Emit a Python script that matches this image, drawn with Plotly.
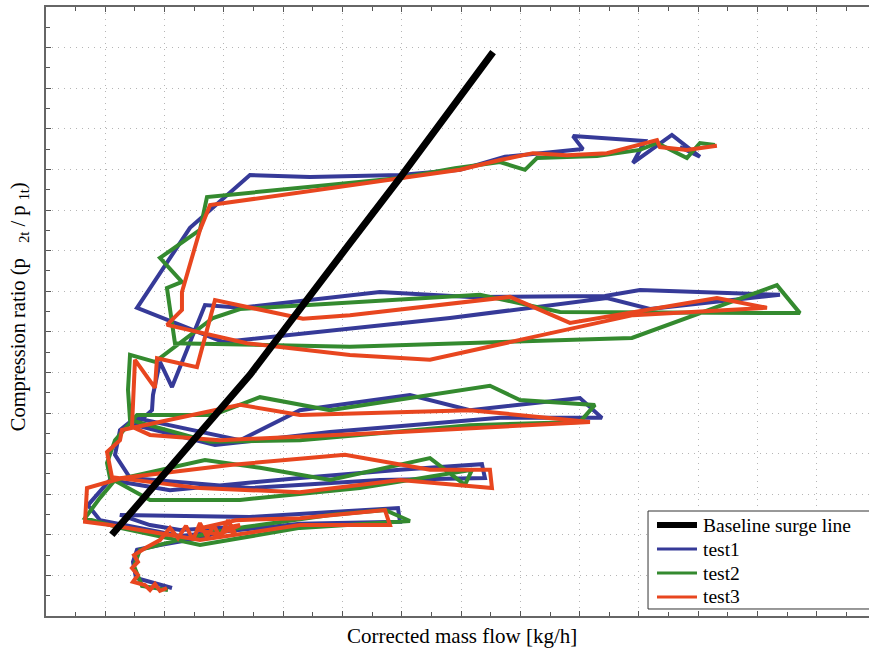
import plotly.graph_objects as go

# Baseline surge line
surge_flow = [11.1, 25.1, 34.4, 51.3, 59.7, 75.4]
surge_ratio = [1.200, 1.434, 1.594, 1.919, 2.079, 2.389]

# test1
t1_flow = [21.25, 17.54, 15.18, 14.67, 15.35, 19.22, 25.97, 31.87, 22.60, 17.54, 12.48, 34.40,
           59.36, 59.70, 42.83, 22.60, 9.11, 7.08, 10.79, 20.91, 42.83, 59.70, 73.52, 74.03,
           56.32, 34.40, 14.17, 11.64, 12.48, 15.01, 32.72, 42.83, 61.38, 71.50, 90.05, 93.76,
           76.56, 47.89, 28.50, 15.01, 17.88, 18.04, 19.22, 21.25, 26.81, 32.72, 56.32, 71.50,
           94.27, 100.17, 123.78, 101.85, 94.60, 68.13, 51.26, 29.85, 15.35, 24.28, 34.40, 44.52,
           59.70, 69.81, 77.40, 90.56, 88.87, 101.01, 98.99, 105.56, 110.29, 106.91]
t1_ratio = [1.069, 1.084, 1.094, 1.133, 1.163, 1.175, 1.192, 1.219, 1.212, 1.224, 1.249, 1.244,
            1.266, 1.232, 1.227, 1.197, 1.236, 1.273, 1.335, 1.310, 1.340, 1.360, 1.374, 1.340,
            1.335, 1.315, 1.340, 1.397, 1.458, 1.488, 1.433, 1.507, 1.544, 1.507, 1.537, 1.488,
            1.488, 1.453, 1.421, 1.470, 1.507, 1.544, 1.626, 1.564, 1.766, 1.759, 1.798, 1.786,
            1.788, 1.803, 1.791, 1.756, 1.783, 1.734, 1.709, 1.675, 1.759, 1.956, 2.086, 2.081,
            2.086, 2.099, 2.131, 2.150, 2.182, 2.170, 2.116, 2.185, 2.131, 2.155]

# test2
t2_flow = [20.57, 16.19, 14.84, 15.85, 21.75, 28.50, 33.56, 47.89, 57.17, 61.38, 42.83, 25.97,
           12.48, 6.58, 9.11, 11.64, 26.81, 36.09, 47.89, 64.76, 70.66, 71.84, 52.95, 32.72,
           17.54, 10.79, 10.29, 11.64, 15.35, 28.16, 36.09, 47.89, 74.87, 79.93, 92.58, 90.05,
           71.50, 42.83, 27.66, 14.17, 13.83, 14.17, 18.38, 28.16, 32.72, 51.26, 73.19, 86.68,
           127.15, 123.27, 98.82, 51.26, 26.48, 21.75, 20.40, 22.93, 19.22, 25.97, 27.15, 42.83,
           59.70, 68.97, 76.56, 80.78, 82.80, 92.92, 100.17, 103.04, 108.09, 110.29, 112.82]
t2_ratio = [1.064, 1.074, 1.123, 1.163, 1.185, 1.207, 1.219, 1.249, 1.261, 1.234, 1.217, 1.175,
            1.217, 1.241, 1.291, 1.335, 1.384, 1.365, 1.335, 1.389, 1.323, 1.360, 1.315, 1.286,
            1.286, 1.340, 1.377, 1.433, 1.495, 1.495, 1.539, 1.507, 1.567, 1.532, 1.520, 1.478,
            1.470, 1.433, 1.429, 1.483, 1.557, 1.643, 1.626, 1.734, 1.756, 1.773, 1.791, 1.749,
            1.746, 1.815, 1.685, 1.663, 1.672, 1.672, 1.808, 1.823, 1.882, 1.951, 2.032, 2.054,
            2.079, 2.103, 2.118, 2.099, 2.128, 2.133, 2.148, 2.165, 2.128, 2.165, 2.160]

# test3
t3_flow = [20.40, 19.22, 18.38, 17.54, 16.69, 14.67, 15.51, 14.50, 15.51, 14.84, 16.69, 19.22,
           20.91, 22.26, 23.61, 24.79, 25.97, 27.15, 28.33, 29.34, 30.69, 31.87, 30.19, 32.72,
           29.00, 25.30, 32.00,
           42.83, 57.17, 58.01, 42.83, 25.97, 10.79, 6.58, 6.91, 12.82,
           31.03, 50.42, 64.76, 74.87, 75.21, 59.70, 42.83, 25.97, 11.13, 10.29, 12.48, 12.82,
           32.72, 42.83, 71.50, 91.74, 59.70, 29.34, 17.54, 14.50, 15.01, 18.38, 18.72, 25.46,
           28.50, 43.34, 51.26, 78.25, 88.36, 113.15, 121.59, 98.99, 79.93, 64.76, 51.26, 33.90,
           20.40, 22.93, 22.93, 25.97, 27.66, 55.48, 69.81, 76.56, 82.12, 87.86, 94.60, 103.04,
           103.54, 108.09, 113.15]
t3_ratio = [1.069, 1.062, 1.079, 1.064, 1.076, 1.084, 1.101, 1.118, 1.133, 1.150, 1.167, 1.187,
            1.217, 1.192, 1.222, 1.187, 1.229, 1.195, 1.224, 1.192, 1.236, 1.204, 1.217, 1.224,
            1.200, 1.214, 1.236,
            1.241, 1.261, 1.224, 1.224, 1.187, 1.224, 1.232, 1.315, 1.340,
            1.372, 1.397, 1.360, 1.360, 1.315, 1.335, 1.305, 1.315, 1.342, 1.404, 1.433, 1.458,
            1.520, 1.495, 1.507, 1.478, 1.453, 1.433, 1.446, 1.466, 1.631, 1.562, 1.635, 1.613,
            1.778, 1.732, 1.741, 1.786, 1.722, 1.783, 1.759, 1.741, 1.680, 1.631, 1.643, 1.672,
            1.717, 1.754, 1.798, 1.951, 2.012, 2.069, 2.099, 2.123, 2.140, 2.135, 2.140, 2.172,
            2.155, 2.148, 2.158]

BLUE = "#363a98"
GREEN = "#348a2f"
RED = "#e8461f"
SERIF = "Liberation Serif, Times New Roman, serif"

series = [
    ("test1", t1_flow, t1_ratio, BLUE),
    ("test2", t2_flow, t2_ratio, GREEN),
    ("test3", t3_flow, t3_ratio, RED),
]

fig = go.Figure()
for name, xs, ys, col in series:
    fig.add_trace(go.Scatter(x=xs, y=ys, mode="lines", name=name,
                             line=dict(color=col, width=4), showlegend=False))
fig.add_trace(go.Scatter(x=surge_flow, y=surge_ratio, mode="lines", name="Baseline surge line",
                         line=dict(color="black", width=7), showlegend=False))

axis_common = dict(
    showticklabels=False, ticks="inside", ticklen=5, tickcolor="#555", tickwidth=1,
    showline=True, linecolor="#666", linewidth=1.5,
    showgrid=True, gridcolor="#b5b5b5", gridwidth=1, griddash="1px,5px",
    zeroline=False,
)
fig.update_xaxes(range=[0, 138.8], dtick=10, tick0=0, mirror="ticks",
                 minor=dict(dtick=5, ticks="inside", ticklen=4, tickcolor="#555", showgrid=False),
                 **axis_common)
fig.update_yaxes(range=[1.0, 2.5], dtick=0.1, tick0=1.0, mirror=False,
                 minor=dict(dtick=0.05, ticks="inside", ticklen=4, tickcolor="#555", showgrid=False),
                 **axis_common)

fig.add_annotation(text="Corrected mass flow [kg/h]", xref="paper", yref="paper",
                   x=0.505, y=-0.033, xanchor="center", yanchor="middle", showarrow=False,
                   font=dict(family=SERIF, size=21, color="black"))
fig.add_annotation(text="Compression ratio (p&nbsp;&nbsp;&nbsp;<sub>2t</sub>&nbsp;/&nbsp;p&nbsp;<sub>1t</sub>)",
                   xref="paper", yref="paper", x=-0.032, y=0.508, textangle=-90,
                   xanchor="center", yanchor="middle", showarrow=False,
                   font=dict(family=SERIF, size=20.5, color="black"))

# Legend box in the lower right corner, running off the right edge
legend_entries = [
    ("Baseline surge line", "black", 6),
    ("test1", BLUE, 3),
    ("test2", GREEN, 3),
    ("test3", RED, 3),
]
fig.add_shape(type="rect", xref="paper", yref="paper", x0=0.7315, x1=1.03, y0=0.0115, y1=0.1724,
              fillcolor="white", line=dict(color="#333", width=1), layer="above")
row_y = [0.1494, 0.1100, 0.0706, 0.0312]
for (label, col, w), yy in zip(legend_entries, row_y):
    fig.add_shape(type="line", xref="paper", yref="paper", x0=0.7424, x1=0.7910, y0=yy, y1=yy,
                  line=dict(color=col, width=w), layer="above")
    fig.add_annotation(text=label, xref="paper", yref="paper", x=0.7959, y=yy,
                       xanchor="left", yanchor="middle", showarrow=False,
                       font=dict(family=SERIF, size=19.5, color="black"))

fig.update_layout(
    width=869, height=650,
    margin=dict(l=46, r=0, t=7, b=34),
    paper_bgcolor="white", plot_bgcolor="white",
    showlegend=False,
)

fig.write_html("out.html")
